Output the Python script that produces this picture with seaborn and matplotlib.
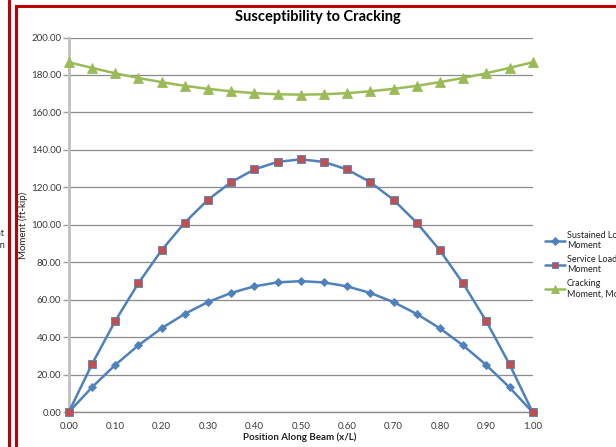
import matplotlib
matplotlib.use("Agg")
import matplotlib.pyplot as plt
from matplotlib.lines import Line2D
import seaborn as sns
import pandas as pd

# Moment envelopes along the beam span
position = [0.00, 0.05, 0.10, 0.15, 0.20, 0.25, 0.30, 0.35, 0.40, 0.45, 0.50,
            0.55, 0.60, 0.65, 0.70, 0.75, 0.80, 0.85, 0.90, 0.95, 1.00]
sustained = [0.0, 13.3, 25.2, 35.7, 44.8, 52.5, 58.8, 63.7, 67.2, 69.3, 70.0,
             69.3, 67.2, 63.7, 58.8, 52.5, 44.8, 35.7, 25.2, 13.3, 0.0]
service = [0.0, 25.6, 48.6, 68.8, 86.4, 101.2, 113.4, 122.8, 129.6, 133.6, 135.0,
           133.6, 129.6, 122.8, 113.4, 101.2, 86.4, 68.8, 48.6, 25.6, 0.0]
cracking = [186.8, 183.8, 180.9, 178.4, 176.2, 174.2, 172.6, 171.3, 170.3, 169.7, 169.5,
            169.7, 170.3, 171.3, 172.6, 174.2, 176.2, 178.4, 180.9, 183.8, 186.8]
series_names = ["Sustained Load\nMoment", "Service Load\nMoment", "Cracking\nMoment, Mcr"]
x_ticks = [0.0, 0.1, 0.2, 0.3, 0.4, 0.5, 0.6, 0.7, 0.8, 0.9, 1.0]
y_ticks = [0, 20, 40, 60, 80, 100, 120, 140, 160, 180, 200]

blue, red_m, green = "#4F81BD", "#C0504D", "#9BBB59"
line_colors = [blue, blue, green]
marker_colors = [blue, red_m, green]
markers = ["D", "s", "^"]
msizes = [4.5, 5.5, 6.5]

sns.set_style("white")
plt.rcParams["font.family"] = ["Lato", "DejaVu Sans"]

W, H = 616, 447
fig = plt.figure(figsize=(W / 100, H / 100), dpi=100)
fig.patch.set_facecolor("white")

ax = fig.add_axes([68.7 / W, (H - 412.3) / H, (532.7 - 68.7) / W, (412.3 - 37.5) / H])

for vals, lc, mc, m, ms in zip([sustained, service, cracking], line_colors,
                               marker_colors, markers, msizes):
    df = pd.DataFrame({"x": position, "y": vals})
    sns.lineplot(data=df, x="x", y="y", ax=ax, color=lc, lw=1.8, marker=m,
                 markersize=ms, markeredgewidth=0.6, markerfacecolor=mc,
                 markeredgecolor=lc, clip_on=False, zorder=3)

ax.set_xlim(0, 1)
ax.set_ylim(0, 200)
ax.set_xticks(x_ticks)
ax.set_yticks(y_ticks)
ax.set_xticklabels([f"{v:.2f}" for v in x_ticks])
ax.set_yticklabels([f"{v:.2f}" for v in y_ticks])
ax.tick_params(axis="both", labelsize=7, length=0)
ax.tick_params(axis="y", length=4, color="#A0A0A0", width=1, direction="out",
               left=True, pad=1.5)
ax.tick_params(axis="x", pad=7)
for t in ax.get_xticklabels() + ax.get_yticklabels():
    t.set_color("#3a3a3a")
ax.grid(axis="y", color="#8C8C8C", lw=0.9)
ax.set_axisbelow(True)
for s in ["top", "right"]:
    ax.spines[s].set_visible(False)
ax.spines["left"].set_color("#BFBFBF")
ax.spines["left"].set_linewidth(2)
ax.spines["bottom"].set_color("#8C8C8C")
ax.spines["bottom"].set_linewidth(1)
ax.set_xlabel("")
ax.set_ylabel("")

fig.text(318 / W, 1 - 17 / H, "Susceptibility to Cracking", ha="center", va="center",
         fontsize=10.5, fontweight="bold", color="black")
fig.text(300 / W, 1 - 437 / H, "Position Along Beam (x/L)", ha="center", va="center",
         fontsize=7, fontweight="bold", color="#222222")
fig.text(23 / W, 1 - 225 / H, "Moment (ft-kip)", ha="center", va="center",
         rotation=90, fontsize=7, color="#222222")

handles = [Line2D([], [], color=lc, lw=1.8, marker=m, markersize=ms * 0.9,
                  markerfacecolor=mc, markeredgecolor=lc, markeredgewidth=0.6)
           for lc, mc, m, ms in zip(line_colors, marker_colors, markers, msizes)]
fig.legend(handles, series_names, loc="upper left",
           bbox_to_anchor=(545 / W, 1 - 231 / H), frameon=False, fontsize=6.5,
           handlelength=2.2, handletextpad=0.2, labelspacing=0.5,
           labelcolor="#222222", borderaxespad=0, borderpad=0)

# neighbouring legend text cut off at the left edge
fig.text(4.5 / W, 1 - 234 / H, "Moment", ha="right", va="center", fontsize=6.5, color="#222222")
fig.text(4.5 / W, 1 - 245 / H, "Moment, Mn", ha="right", va="center", fontsize=6.5, color="#222222")

# chart frames
red = "#C00000"
fig.add_artist(Line2D([9 / W, 9 / W], [0, 1], color=red, lw=2.2, transform=fig.transFigure))
fig.add_artist(Line2D([15.5 / W, 15.5 / W], [0, 1 - 5.5 / H], color=red, lw=2.2,
                      transform=fig.transFigure))
fig.add_artist(Line2D([15.5 / W, 1.01], [1 - 5.5 / H, 1 - 5.5 / H], color=red, lw=2.2,
                      transform=fig.transFigure, solid_capstyle="projecting"))

fig.savefig("out.png", dpi=100)
